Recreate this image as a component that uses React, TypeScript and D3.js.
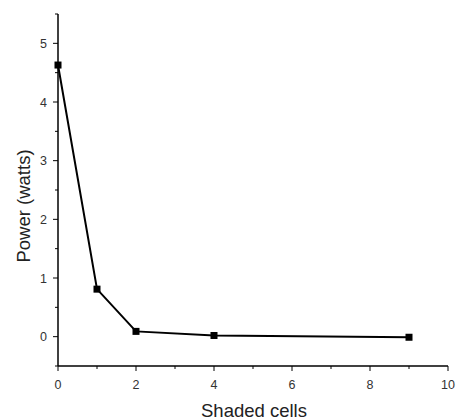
import React from "react";
import * as d3 from "d3";

const shadedCells = [0, 1, 2, 4, 9];
const powerWatts = [4.63, 0.81, 0.09, 0.02, -0.01];
const xTicks = [0, 2, 4, 6, 8, 10];
const xMinorTicks = [1, 3, 5, 7, 9];
const yTicks = [0, 1, 2, 3, 4, 5];
const yMinorTicks = [-0.5, 0.5, 1.5, 2.5, 3.5, 4.5, 5.5];

const W = 460;
const H = 420;
const left = 58;
const right = 448;
const top = 14;
const bottom = 366;

export default function App() {
  const x = d3.scaleLinear().domain([0, 10]).range([left, right]);
  const y = d3.scaleLinear().domain([-0.5, 5.5]).range([bottom, top]);
  const pts = shadedCells.map((c, i) => [c, powerWatts[i]] as [number, number]);
  const line = d3
    .line<[number, number]>()
    .x((d) => x(d[0]))
    .y((d) => y(d[1]));
  const font = "'Liberation Sans', Arial, sans-serif";
  const ms = 7;

  return (
    <svg
      width={W}
      height={H}
      style={{ position: "absolute", left: 0, top: 0, background: "#fff" }}
      fontFamily={font}
    >
      {/* axes */}
      <line x1={left} x2={left} y1={top} y2={bottom} stroke="#000" strokeWidth={1.5} />
      <line x1={left} x2={right} y1={bottom} y2={bottom} stroke="#000" strokeWidth={1.5} />
      {xTicks.map((t) => (
        <g key={"xt" + t}>
          <line x1={x(t)} x2={x(t)} y1={bottom} y2={bottom + 5} stroke="#000" strokeWidth={1} />
          <text x={x(t)} y={bottom + 23} textAnchor="middle" fontSize={12.5} fill="#333">
            {t}
          </text>
        </g>
      ))}
      {xMinorTicks.map((t) => (
        <line key={"xm" + t} x1={x(t)} x2={x(t)} y1={bottom} y2={bottom + 3} stroke="#000" strokeWidth={1} />
      ))}
      {yTicks.map((t) => (
        <g key={"yt" + t}>
          <line x1={left - 5} x2={left} y1={y(t)} y2={y(t)} stroke="#000" strokeWidth={1} />
          <text x={left - 11} y={y(t) + 4.5} textAnchor="end" fontSize={12.5} fill="#333">
            {t}
          </text>
        </g>
      ))}
      {yMinorTicks.map((t) => (
        <line key={"ym" + t} x1={left - 3} x2={left} y1={y(t)} y2={y(t)} stroke="#000" strokeWidth={1} />
      ))}
      {/* series */}
      <path d={line(pts) ?? ""} fill="none" stroke="#000" strokeWidth={2} />
      {pts.map((p, i) => (
        <rect key={i} x={x(p[0]) - ms / 2} y={y(p[1]) - ms / 2} width={ms} height={ms} fill="#000" />
      ))}
      {/* axis titles */}
      <text x={254} y={417} textAnchor="middle" fontSize={18.5} fill="#222">
        Shaded cells
      </text>
      <text
        transform={`translate(30, 206) rotate(-90)`}
        textAnchor="middle"
        fontSize={18.5}
        fill="#222"
      >
        Power (watts)
      </text>
    </svg>
  );
}
